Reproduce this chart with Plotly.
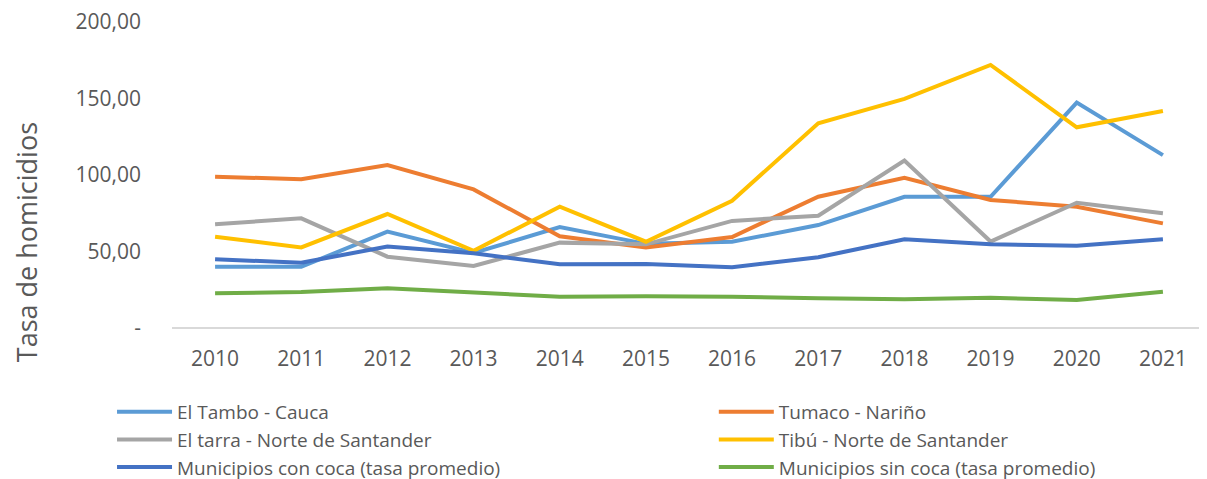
import plotly.graph_objects as go

years = ["2010", "2011", "2012", "2013", "2014", "2015", "2016", "2017", "2018", "2019", "2020", "2021"]

el_tambo = [40.0, 40.0, 63.0, 49.0, 66.0, 55.0, 56.4, 67.3, 85.8, 85.8, 147.3, 113.0]
tumaco = [98.9, 97.2, 106.5, 90.6, 60.0, 52.7, 59.5, 85.8, 98.2, 83.7, 79.3, 68.4]
el_tarra = [67.8, 71.7, 46.6, 40.5, 55.8, 54.7, 70.0, 73.4, 109.4, 56.5, 81.9, 75.0]
tibu = [59.7, 52.7, 74.5, 50.5, 79.3, 56.4, 83.2, 133.8, 149.7, 171.9, 131.2, 141.8]
con_coca = [44.9, 42.7, 53.2, 48.8, 41.6, 41.8, 39.7, 46.2, 58.0, 54.7, 53.8, 58.0]
sin_coca = [22.7, 23.5, 25.9, 23.5, 20.5, 20.7, 20.5, 19.4, 18.8, 19.8, 18.3, 23.7]

series_names = [
    "El Tambo - Cauca",
    "Tumaco - Nariño",
    "El tarra - Norte de Santander",
    "Tibú - Norte de Santander",
    "Municipios con coca (tasa promedio)",
    "Municipios sin coca (tasa promedio)",
]
series_values = [el_tambo, tumaco, el_tarra, tibu, con_coca, sin_coca]
colors = ["#5B9BD5", "#ED7D31", "#A5A5A5", "#FFC000", "#4472C4", "#70AD47"]
legend_ids = ["legend", "legend2", "legend", "legend2", "legend", "legend2"]

y_tickvals = [0, 50, 100, 150, 200]
y_ticktext = ["-", "50,00", "100,00", "150,00", "200,00"]
y_title = "Tasa de homicidios"

fig = go.Figure()
for name, vals, col, lg in zip(series_names, series_values, colors, legend_ids):
    fig.add_trace(go.Scatter(
        x=years, y=vals, name=name, mode="lines",
        line=dict(color=col, width=4),
        legend=lg,
    ))

font_family = "Open Sans, Liberation Sans, sans-serif"
legend_common = dict(
    orientation="v",
    yanchor="top", xanchor="left",
    font=dict(size=19, color="#595959", family=font_family),
    itemwidth=55, tracegroupgap=0,
    bgcolor="rgba(0,0,0,0)",
)

fig.update_layout(
    width=1207, height=479,
    margin=dict(l=164, r=9, t=14, b=159, autoexpand=False),
    paper_bgcolor="white", plot_bgcolor="white",
    font=dict(family=font_family, color="#595959", size=18),
    showlegend=True,
    legend=dict(x=-0.058, y=-0.212, **legend_common),
    legend2=dict(x=0.524, y=-0.212, **legend_common),
    xaxis=dict(
        type="category",
        showgrid=False, zeroline=False,
        showline=False,
        ticks="", ticklabelstandoff=16,
        tickfont=dict(size=21, color="#595959"),
        range=[-0.5, 11.5],
    ),
    yaxis=dict(
        range=[0, 200],
        tickvals=y_tickvals, ticktext=y_ticktext,
        showgrid=False, zeroline=True, zerolinecolor="#D9D9D9", zerolinewidth=2,
        showline=False, ticks="",
        ticklabelstandoff=30,
        ticklabeloverflow="allow",
        tickfont=dict(size=21, color="#595959"),
    ),
    annotations=[dict(
        text=y_title, textangle=-90,
        xref="paper", yref="paper", x=-0.141, y=0.281,
        xanchor="center", yanchor="middle", showarrow=False,
        font=dict(size=27, color="#595959", family=font_family),
    )],
)

fig.write_html("out.html")
